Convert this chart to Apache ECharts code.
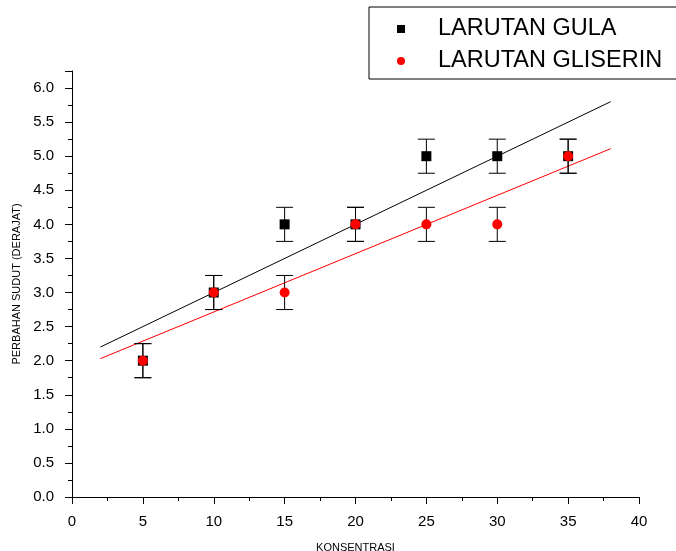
<!DOCTYPE html>
<html>
<head>
<meta charset="utf-8">
<script src="https://cdn.jsdelivr.net/npm/echarts@6/dist/echarts.min.js"></script>
<style>
html,body{margin:0;padding:0;background:#fff;}
#chart{width:676px;height:551px;}
</style>
</head>
<body>
<div id="chart"></div>
<script>
const konsentrasi = [5, 10, 15, 20, 25, 30, 35];
const gulaValues = [2, 3, 4, 4, 5, 5, 5];
const gliserinValues = [2, 3, 3, 4, 4, 4, 5];
const gulaErrors = [0.25, 0.25, 0.25, 0.25, 0.25, 0.25, 0.25];
const gliserinErrors = [0.25, 0.25, 0.25, 0.25, 0.25, 0.25, 0.25];
const gulaFit = [[2, 2.2], [38, 5.8]];
const gliserinFit = [[2, 2.03], [38, 5.11]];
const xTicks = [0, 5, 10, 15, 20, 25, 30, 35, 40];
const yTicks = [0, 0.5, 1, 1.5, 2, 2.5, 3, 3.5, 4, 4.5, 5, 5.5, 6];

const FONT = '"Liberation Sans", Arial, sans-serif';

function errData(xs, ys, es) {
  return xs.map((x, i) => [x, ys[i], ys[i] - es[i], ys[i] + es[i]]);
}

function renderErr(params, api) {
  const x = api.value(0);
  const lo = api.coord([x, api.value(2)]);
  const hi = api.coord([x, api.value(3)]);
  const hw = 8.5;
  const style = { stroke: '#000', lineWidth: 1 };
  return {
    type: 'group',
    children: [
      { type: 'line', shape: { x1: lo[0], y1: lo[1], x2: hi[0], y2: hi[1] }, style },
      { type: 'line', shape: { x1: lo[0] - hw, y1: lo[1], x2: lo[0] + hw, y2: lo[1] }, style },
      { type: 'line', shape: { x1: hi[0] - hw, y1: hi[1], x2: hi[0] + hw, y2: hi[1] }, style }
    ]
  };
}

const chart = echarts.init(document.getElementById('chart'), null, { renderer: 'canvas' });
chart.setOption({
  animation: false,
  backgroundColor: '#fff',
  textStyle: { fontFamily: FONT },
  grid: { left: 72, right: 37, top: 71, bottom: 54, containLabel: false, outerBoundsMode: 'none' },
  legend: {
    orient: 'vertical',
    left: 369,
    top: 7,
    padding: [10, 30, 6, 28],
    borderColor: '#000',
    borderWidth: 1,
    itemWidth: 8,
    itemHeight: 8,
    itemGap: 8,
    textStyle: { fontFamily: FONT, fontSize: 23.5, color: '#000', lineHeight: 24, padding: [0, 0, 0, 28] },
    data: [
      { name: 'LARUTAN GULA', icon: 'rect' },
      { name: 'LARUTAN GLISERIN', icon: 'circle' }
    ]
  },
  xAxis: {
    type: 'value',
    min: 0, max: 40, interval: 5,
    name: 'KONSENTRASI',
    nameLocation: 'middle',
    nameGap: 45,
    nameTextStyle: { fontFamily: FONT, fontSize: 11, color: '#000' },
    axisLine: { show: true, onZero: false, lineStyle: { color: '#000', width: 1 } },
    axisTick: { show: true, length: 7, lineStyle: { color: '#000' } },
    minorTick: { show: true, splitNumber: 2, length: 4, lineStyle: { color: '#000' } },
    splitLine: { show: false },
    axisLabel: { fontFamily: FONT, fontSize: 15, color: '#000', margin: 17,
      formatter: v => xTicks.includes(v) ? String(v) : '' }
  },
  yAxis: {
    type: 'value',
    min: 0, max: 6.25, interval: 0.5,
    name: 'PERBAHAN SUDUT (DERAJAT)',
    nameLocation: 'middle',
    nameGap: 42,
    nameTextStyle: { fontFamily: FONT, fontSize: 11, color: '#000' },
    axisLine: { show: true, onZero: false, lineStyle: { color: '#000', width: 1 } },
    axisTick: { show: true, length: 7, lineStyle: { color: '#000' } },
    minorTick: { show: true, splitNumber: 2, length: 4, lineStyle: { color: '#000' } },
    splitLine: { show: false },
    axisLabel: { fontFamily: FONT, fontSize: 15, color: '#000', margin: 18, showMaxLabel: false,
      formatter: v => yTicks.includes(v) ? v.toFixed(1) : '' }
  },
  series: [
    { name: 'fitGula', type: 'line', data: gulaFit, symbol: 'none', lineStyle: { color: '#000', width: 1 }, z: 1, silent: true },
    { name: 'fitGliserin', type: 'line', data: gliserinFit, symbol: 'none', lineStyle: { color: '#ff0000', width: 1 }, z: 1, silent: true },
    { name: 'errGula', type: 'custom', renderItem: renderErr, data: errData(konsentrasi, gulaValues, gulaErrors), encode: { x: 0, y: [2, 3] }, z: 2 },
    { name: 'errGliserin', type: 'custom', renderItem: renderErr, data: errData(konsentrasi, gliserinValues, gliserinErrors), encode: { x: 0, y: [2, 3] }, z: 2 },
    { name: 'LARUTAN GULA', type: 'scatter', symbol: 'rect', symbolSize: 10,
      data: konsentrasi.map((x, i) => [x, gulaValues[i]]), itemStyle: { color: '#000', opacity: 1 }, z: 3 },
    { name: 'LARUTAN GLISERIN', type: 'scatter', symbol: 'circle', symbolSize: 10,
      data: konsentrasi.map((x, i) => [x, gliserinValues[i]]), itemStyle: { color: '#ff0000', opacity: 1 }, z: 4 }
  ]
});
</script>
</body>
</html>
